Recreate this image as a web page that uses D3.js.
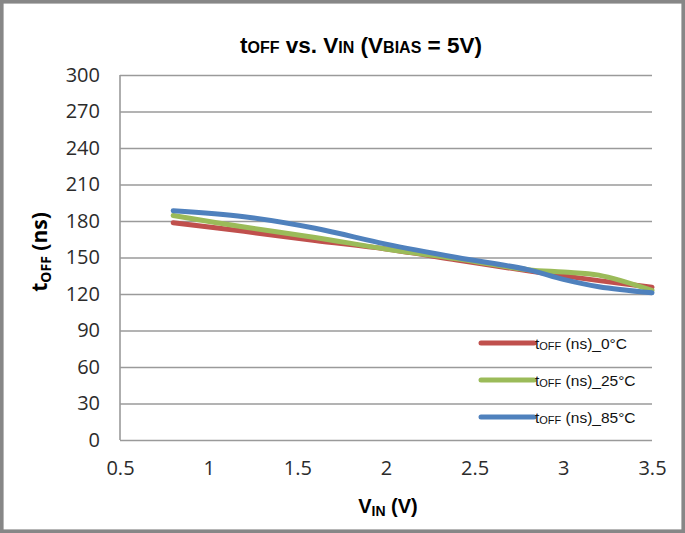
<!DOCTYPE html>
<html>
<head>
  <meta charset="utf-8">
  <title>tOFF vs VIN</title>
  <script src="https://d3js.org/d3.v7.min.js"></script>
  <style>
    body { margin: 0; background: #fff; }
    svg { display: block; }
  </style>
</head>
<body>
  <svg width="685" height="533"></svg>
  <script>
    // values
    var vin = [0.8, 1.2, 1.6, 2.0, 2.4, 2.8, 3.0, 3.2, 3.5];
    var toff0C = [178.5, 171.5, 164, 157, 148, 139, 135, 131, 125.5];
    var toff25C = [184.5, 175, 166.5, 157, 149, 140, 138, 135.5, 123];
    var toff85C = [188.5, 183.5, 174, 161, 150, 140, 132, 126, 121];
    var seriesNames = ['(ns)_0°C', '(ns)_25°C', '(ns)_85°C'];
    var seriesColors = ['#c0504d', '#9bbb59', '#4f81bd'];
    var xTicks = [0.5, 1, 1.5, 2, 2.5, 3, 3.5];
    var yTicks = [0, 30, 60, 90, 120, 150, 180, 210, 240, 270, 300];

    var svg = d3.select('svg'),
        margin = {top: 75, right: 33, bottom: 93, left: 120},
        width = +svg.attr('width') - margin.left - margin.right,
        height = +svg.attr('height') - margin.top - margin.bottom;

    var narrow = "'Liberation Sans Narrow', 'Arial Narrow', 'Liberation Sans', Arial, sans-serif";
    var tickFont = "'Open Sans', 'Noto Sans', sans-serif";

    // outer frame
    svg.append('rect')
        .attr('x', 1.8).attr('y', 1.8)
        .attr('width', 681.4).attr('height', 529.4)
        .attr('fill', '#fff')
        .attr('stroke', '#878787')
        .attr('stroke-width', 3.6);

    var x = d3.scaleLinear().domain([0.5, 3.5]).range([0, width]);
    var y = d3.scaleLinear().domain([0, 300]).range([height, 0]);

    var g = svg.append('g')
        .attr('transform', 'translate(' + margin.left + ',' + margin.top + ')');

    // horizontal gridlines + y labels
    var yAxis = d3.axisLeft(y).tickValues(yTicks).tickSize(-width).tickPadding(20);
    var ya = g.append('g').call(yAxis);
    ya.select('.domain').remove();
    ya.selectAll('.tick line').attr('stroke', '#9a9a9a').attr('stroke-width', 1.3);
    ya.selectAll('.tick text')
        .attr('fill', '#2b2b2b')
        .style('font-family', tickFont)
        .style('font-size', '20px');

    // vertical axis line
    g.append('line')
        .attr('x1', 0).attr('x2', 0)
        .attr('y1', 0).attr('y2', height)
        .attr('stroke', '#9a9a9a').attr('stroke-width', 1.6);

    // x labels
    var xAxis = d3.axisBottom(x).tickValues(xTicks).tickSize(0).tickPadding(21)
        .tickFormat(d3.format('~g'));
    var xa = g.append('g').attr('transform', 'translate(0,' + height + ')').call(xAxis);
    xa.select('.domain').remove();
    xa.selectAll('.tick text')
        .attr('fill', '#2b2b2b')
        .style('font-family', tickFont)
        .style('font-size', '20px');

    // lines
    var line = d3.line()
        .x(function(d) { return x(d[0]); })
        .y(function(d) { return y(d[1]); })
        .curve(d3.curveCatmullRom.alpha(0.5));

    var allSeries = [toff0C, toff25C, toff85C].map(function(vals) {
        return vin.map(function(v, i) { return [v, vals[i]]; });
    });

    g.selectAll('path.series')
        .data(allSeries)
        .enter()
        .append('path')
        .attr('class', 'series')
        .attr('fill', 'none')
        .attr('stroke', function(d, i) { return seriesColors[i]; })
        .attr('stroke-width', 5)
        .attr('stroke-linecap', 'round')
        .attr('stroke-linejoin', 'round')
        .attr('d', line);

    // legend
    var legend = svg.append('g');
    seriesNames.forEach(function(name, i) {
        var ly = 343 + i * 37;
        legend.append('line')
            .attr('x1', 481).attr('x2', 534)
            .attr('y1', ly).attr('y2', ly)
            .attr('stroke', seriesColors[i])
            .attr('stroke-width', 5)
            .attr('stroke-linecap', 'round');
        var t = legend.append('text')
            .attr('x', 535).attr('y', ly + 5.5)
            .attr('fill', '#111')
            .style('font-family', "'Liberation Sans', Arial, sans-serif")
            .style('font-size', '15.5px');
        t.append('tspan').text('t');
        t.append('tspan').style('font-size', '11px').attr('dy', 1).text('OFF');
        t.append('tspan').attr('dy', -1).text(' ' + name);
    });

    // title
    var title = svg.append('text')
        .attr('x', 361).attr('y', 53)
        .attr('text-anchor', 'middle')
        .attr('fill', '#000')
        .style('font-family', narrow)
        .style('font-weight', 'bold')
        .style('font-size', '22.5px');
    title.append('tspan').text('t');
    title.append('tspan').style('font-size', '16px').text('OFF');
    title.append('tspan').text(' vs. V');
    title.append('tspan').style('font-size', '16px').text('IN');
    title.append('tspan').text(' (V');
    title.append('tspan').style('font-size', '16px').text('BIAS');
    title.append('tspan').text(' = 5V)');

    // y axis title
    var yTitle = svg.append('text')
        .attr('transform', 'translate(47,252) rotate(-90)')
        .attr('text-anchor', 'middle')
        .attr('fill', '#000')
        .style('font-family', tickFont)
        .style('font-weight', 'bold')
        .style('font-size', '21px');
    yTitle.append('tspan').text('t');
    yTitle.append('tspan').style('font-size', '14px').attr('dy', 4).text('OFF');
    yTitle.append('tspan').attr('dy', -4).text(' (ns)');

    // x axis title
    var xTitle = svg.append('text')
        .attr('x', 388).attr('y', 513)
        .attr('text-anchor', 'middle')
        .attr('fill', '#000')
        .style('font-family', narrow)
        .style('font-weight', 'bold')
        .style('font-size', '20px');
    xTitle.append('tspan').text('V');
    xTitle.append('tspan').style('font-size', '14px').attr('dy', 3).text('IN');
    xTitle.append('tspan').attr('dy', -3).text(' (V)');
  </script>
</body>
</html>
